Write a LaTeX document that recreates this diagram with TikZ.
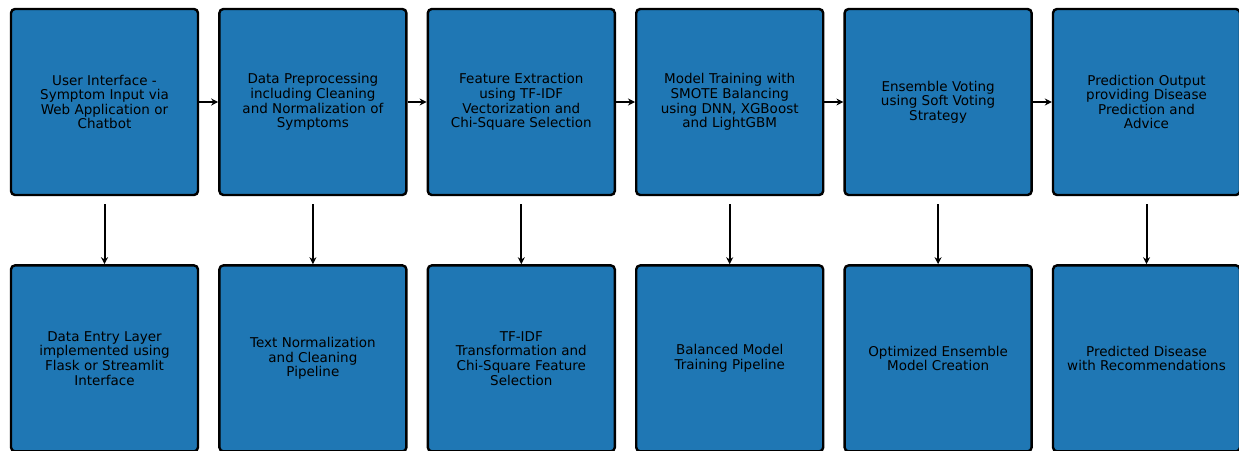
\documentclass[tikz,border=0pt]{standalone}
\usepackage{fontspec}
\setmainfont{DejaVu Sans}
\usepackage{xcolor}
\usepackage{tikz}
\usetikzlibrary{arrows.meta,positioning}
\definecolor{boxblue}{HTML}{1F77B4}

\begin{document}
\begin{tikzpicture}[
		x=1pt, y=1pt,
		>=Stealth,
		stage/.style={rectangle, draw=black, fill=boxblue, rounded corners=4pt,
			line width=2.4pt, minimum width=187pt, minimum height=186pt,
			inner sep=0pt, align=center, font=\fontsize{13.5}{14.6}\selectfont},
		detail/.style={stage},
		arrow/.style={line width=2pt, -{Stealth[length=7pt,width=7pt]}}
		]
		\useasboundingbox (0,0) rectangle (1239,-450);
		\begin{scope}
		\clip (0,0) rectangle (1239,-450);
		
		% Row 1: main pipeline
		\node[stage] (ui) at (104.5,-102) {User Interface -\\Symptom Input via\\Web Application or\\Chatbot};
		\node[stage, right=19pt of ui] (prep) {Data Preprocessing\\including Cleaning\\and Normalization of\\Symptoms};
		\node[stage, right=19pt of prep] (feat) {Feature Extraction\\using TF-IDF\\Vectorization and\\Chi-Square Selection};
		\node[stage, right=19pt of feat] (train) {Model Training with\\SMOTE Balancing\\using DNN, XGBoost\\and LightGBM};
		\node[stage, right=19pt of train] (vote) {Ensemble Voting\\using Soft Voting\\Strategy};
		\node[stage, right=19pt of vote] (out) {Prediction Output\\providing Disease\\Prediction and\\Advice};
		
		% Row 2: implementation details
		\node[detail, below=68pt of ui] (entry) {Data Entry Layer\\implemented using\\Flask or Streamlit\\Interface};
		\node[detail, below=68pt of prep] (norm) {Text Normalization\\and Cleaning\\Pipeline};
		\node[detail, below=68pt of feat] (tfidf) {TF-IDF\\Transformation and\\Chi-Square Feature\\Selection};
		\node[detail, below=68pt of train] (bal) {Balanced Model\\Training Pipeline};
		\node[detail, below=68pt of vote] (ens) {Optimized Ensemble\\Model Creation};
		\node[detail, below=68pt of out] (pred) {Predicted Disease\\with Recommendations};
		
		% Arrows along the pipeline
		\draw[arrow] (ui) -- (prep);
		\draw[arrow] (prep) -- (feat);
		\draw[arrow] (feat) -- (train);
		\draw[arrow] (train) -- (vote);
		\draw[arrow] (vote) -- (out);
		
		% Arrows down to the details
		\draw[arrow] ([yshift=-8pt]ui.south) -- (entry);
		\draw[arrow] ([yshift=-8pt]prep.south) -- (norm);
		\draw[arrow] ([yshift=-8pt]feat.south) -- (tfidf);
		\draw[arrow] ([yshift=-8pt]train.south) -- (bal);
		\draw[arrow] ([yshift=-8pt]vote.south) -- (ens);
		\draw[arrow] ([yshift=-8pt]out.south) -- (pred);
		\end{scope}
		
	\end{tikzpicture}
\end{document}
